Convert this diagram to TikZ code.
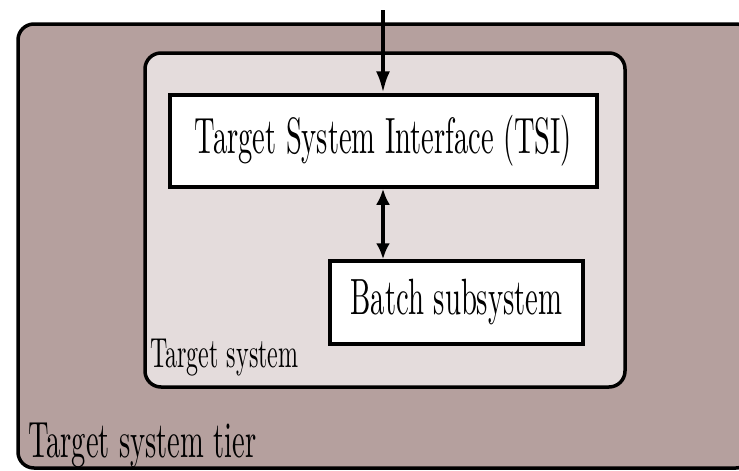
\documentclass[tikz,border=0pt]{standalone}
\usetikzlibrary{arrows.meta}
\definecolor{tierfill}{RGB}{181,160,158}
\definecolor{sysfill}{RGB}{228,220,220}
\tikzset{
  tierbox/.style={draw=black, line width=3.5pt, fill=tierfill, rounded corners=16pt},
  sysbox/.style={draw=black, line width=3.5pt, fill=sysfill, rounded corners=16pt},
  compbox/.style={draw=black, line width=3.5pt, fill=white, inner sep=0pt, rectangle},
  conn/.style={line width=4pt, -{Latex[length=22pt,width=14pt]}},
  biconn/.style={line width=4pt, {Latex[length=16pt,width=14pt]}-{Latex[length=16pt,width=14pt]}},
  lbl/.style={inner sep=0pt, anchor=base west}
}
\begin{document}
\begin{tikzpicture}[x=1pt,y=-1pt]
\useasboundingbox (0,0) rectangle (739,471);
\clip (0,0) rectangle (739,471);
\fill[white] (0,0) rectangle (739,471);
% outer tier
\draw[tierbox] (18,24) rectangle (752,468);
\node[lbl] (tierlbl) at (28,457) {\scalebox{2.85}[5.1]{Target system tier}};
% target system
\draw[sysbox] (145,53) rectangle (625,387);
\node[lbl] (syslbl) at (150,367) {\scalebox{2.4}[4.2]{Target system}};
% components
\node[compbox, minimum width=427pt, minimum height=92pt] (tsi) at (383.5,141)
  {\raisebox{-6pt}{\scalebox{2.85}[5.1]{Target System Interface (TSI)}}};
\node[compbox, minimum width=253pt, minimum height=83pt] (batch) at (456.5,302.5)
  {\raisebox{-4pt}{\scalebox{2.87}[5.1]{Batch subsystem}}};
\coordinate (top) at (383,10);
\draw[conn] (top) -- (tsi.north -| top);
\draw[biconn] (tsi.south -| top) -- (batch.north -| top);
\end{tikzpicture}
\end{document}
